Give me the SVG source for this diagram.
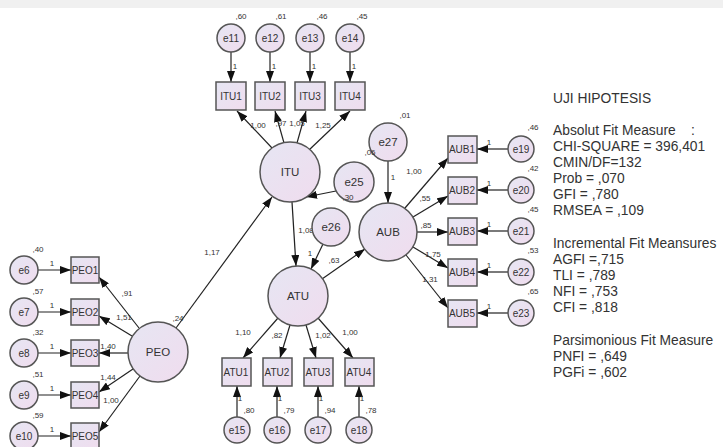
<svg xmlns="http://www.w3.org/2000/svg" width="723" height="447" viewBox="0 0 723 447">
<defs>
<linearGradient id="g" x1="0" y1="0" x2="1" y2="1">
<stop offset="0" stop-color="#e6e6f3"/>
<stop offset="1" stop-color="#f0dcee"/>
</linearGradient>
<marker id="ah" markerWidth="11" markerHeight="8" refX="11" refY="4" orient="auto" markerUnits="userSpaceOnUse">
<path d="M0,0 L11,4 L0,8 Z" fill="#111"/>
</marker>
</defs>
<style>
.c{fill:url(#g);stroke:#555;stroke-width:1.5}
.b{fill:url(#g);stroke:#555;stroke-width:1.5}
.n{font-family:"Liberation Sans",Arial,sans-serif;font-size:11.5px;fill:#333;text-anchor:middle}
.s{font-family:"Liberation Sans",Arial,sans-serif;font-size:10px;fill:#333;text-anchor:middle}
.l{font-family:"Liberation Sans",Arial,sans-serif;font-size:8px;fill:#333;text-anchor:middle}
.t{font-family:"Liberation Sans",Arial,sans-serif;font-size:13.8px;fill:#333}
.a{stroke:#222;stroke-width:1.2;fill:none;marker-end:url(#ah)}
</style>
<rect x="0" y="0" width="723" height="447" fill="#fff"/>
<rect x="0" y="0" width="723" height="8" fill="#f0f0f0"/>

<g id="connectors">
<line class="a" x1="231" y1="52" x2="231" y2="82"/>
<line class="a" x1="270" y1="52" x2="270" y2="82"/>
<line class="a" x1="310" y1="52" x2="310" y2="82"/>
<line class="a" x1="350" y1="52" x2="350" y2="82"/>
<line class="a" x1="272" y1="148" x2="237" y2="111"/>
<line class="a" x1="284" y1="143" x2="275" y2="111"/>
<line class="a" x1="297" y1="143" x2="306" y2="111"/>
<line class="a" x1="309" y1="150" x2="350" y2="111"/>
<line class="a" x1="176" y1="328" x2="272" y2="197"/>
<line class="a" x1="292" y1="202" x2="296" y2="266"/>
<line class="a" x1="323" y1="244" x2="311" y2="269"/>
<line class="a" x1="336" y1="191" x2="306" y2="197"/>
<line class="a" x1="388" y1="161" x2="388" y2="203"/>
<line class="a" x1="322" y1="279" x2="365" y2="249"/>
<line class="a" x1="405" y1="208" x2="448" y2="158"/>
<line class="a" x1="413" y1="217" x2="448" y2="196"/>
<line class="a" x1="417" y1="232" x2="448" y2="232"/>
<line class="a" x1="413" y1="247" x2="448" y2="268"/>
<line class="a" x1="406" y1="255" x2="448" y2="308"/>
<line class="a" x1="508" y1="149" x2="477" y2="149"/>
<line class="a" x1="508" y1="190" x2="477" y2="190"/>
<line class="a" x1="508" y1="231" x2="477" y2="231"/>
<line class="a" x1="508" y1="272" x2="477" y2="272"/>
<line class="a" x1="508" y1="313" x2="477" y2="313"/>
<line class="a" x1="139" y1="328" x2="99" y2="277"/>
<line class="a" x1="132" y1="336" x2="99" y2="316"/>
<line class="a" x1="128" y1="353" x2="99" y2="353"/>
<line class="a" x1="133" y1="369" x2="99" y2="392"/>
<line class="a" x1="140" y1="376" x2="99" y2="432"/>
<line class="a" x1="38" y1="270" x2="71" y2="270"/>
<line class="a" x1="38" y1="312" x2="71" y2="312"/>
<line class="a" x1="38" y1="353" x2="71" y2="353"/>
<line class="a" x1="38" y1="395" x2="71" y2="395"/>
<line class="a" x1="38" y1="436" x2="71" y2="436"/>
<line class="a" x1="278" y1="318" x2="243" y2="358"/>
<line class="a" x1="290" y1="325" x2="280" y2="358"/>
<line class="a" x1="306" y1="325" x2="316" y2="358"/>
<line class="a" x1="318" y1="318" x2="353" y2="358"/>
<line class="a" x1="237" y1="417" x2="237" y2="386"/>
<line class="a" x1="277" y1="417" x2="277" y2="386"/>
<line class="a" x1="318" y1="417" x2="318" y2="386"/>
<line class="a" x1="359" y1="417" x2="359" y2="386"/>
</g>

<g id="edge-labels">
<text class="l" x="235" y="69">1</text>
<text class="l" x="274" y="69">1</text>
<text class="l" x="314" y="69">1</text>
<text class="l" x="354" y="69">1</text>
<text class="l" x="258" y="128">1,00</text>
<text class="l" x="281" y="126">,97</text>
<text class="l" x="297" y="126">1,05</text>
<text class="l" x="323" y="128">1,25</text>
<text class="l" x="212" y="255">1,17</text>
<text class="l" x="178" y="321">,24</text>
<text class="l" x="306" y="233">1,08</text>
<text class="l" x="310" y="256">1</text>
<text class="l" x="393" y="180">1</text>
<text class="l" x="334" y="263">,63</text>
<text class="l" x="414" y="174">1,00</text>
<text class="l" x="425" y="201">,55</text>
<text class="l" x="426" y="228">,85</text>
<text class="l" x="433" y="257">1,75</text>
<text class="l" x="430" y="282">1,31</text>
<text class="l" x="489" y="145">1</text>
<text class="l" x="489" y="186">1</text>
<text class="l" x="489" y="227">1</text>
<text class="l" x="489" y="268">1</text>
<text class="l" x="489" y="309">1</text>
<text class="l" x="127" y="296">,91</text>
<text class="l" x="124" y="320">1,51</text>
<text class="l" x="108" y="349">1,40</text>
<text class="l" x="108" y="380">1,44</text>
<text class="l" x="111" y="403">1,00</text>
<text class="l" x="52" y="266">1</text>
<text class="l" x="52" y="308">1</text>
<text class="l" x="52" y="349">1</text>
<text class="l" x="52" y="391">1</text>
<text class="l" x="52" y="432">1</text>
<text class="l" x="243" y="335">1,10</text>
<text class="l" x="277" y="338">,82</text>
<text class="l" x="323" y="338">1,02</text>
<text class="l" x="350" y="335">1,00</text>
<text class="l" x="240" y="401">1</text>
<text class="l" x="280" y="401">1</text>
<text class="l" x="321" y="401">1</text>
<text class="l" x="362" y="401">1</text>
</g>

<g id="e11"><circle class="c" cx="231" cy="38" r="14"/><text class="s" x="231" y="42">e11</text><text class="l" x="241" y="19">,60</text></g>
<g id="e12"><circle class="c" cx="270" cy="38" r="14"/><text class="s" x="270" y="42">e12</text><text class="l" x="281" y="19">,61</text></g>
<g id="e13"><circle class="c" cx="310" cy="38" r="14"/><text class="s" x="310" y="42">e13</text><text class="l" x="322" y="19">,46</text></g>
<g id="e14"><circle class="c" cx="350" cy="38" r="14"/><text class="s" x="350" y="42">e14</text><text class="l" x="362" y="19">,45</text></g>

<g id="ITU1"><rect class="b" x="216" y="82" width="30" height="28"/><text class="s" x="231" y="100">ITU1</text></g>
<g id="ITU2"><rect class="b" x="255" y="82" width="30" height="28"/><text class="s" x="270" y="100">ITU2</text></g>
<g id="ITU3"><rect class="b" x="295" y="82" width="30" height="28"/><text class="s" x="310" y="100">ITU3</text></g>
<g id="ITU4"><rect class="b" x="335" y="82" width="30" height="28"/><text class="s" x="350" y="100">ITU4</text></g>

<g id="ITU"><circle class="c" cx="290" cy="172" r="30"/><text class="n" x="290" y="176">ITU</text></g>
<g id="e27"><circle class="c" cx="388" cy="142" r="19"/><text class="n" x="388" y="146">e27</text><text class="l" x="405" y="118">,01</text></g>
<g id="e25"><circle class="c" cx="354" cy="182" r="20"/><text class="n" x="354" y="186">e25</text><text class="l" x="370" y="155">,06</text><text class="l" x="348" y="200">,30</text></g>
<g id="e26"><circle class="c" cx="331" cy="227" r="19"/><text class="n" x="331" y="231">e26</text></g>
<g id="ATU"><circle class="c" cx="298" cy="296" r="30"/><text class="n" x="298" y="300">ATU</text></g>
<g id="AUB"><circle class="c" cx="388" cy="232" r="29"/><text class="n" x="388" y="236">AUB</text></g>
<g id="PEO"><circle class="c" cx="158" cy="352" r="30"/><text class="n" x="158" y="356">PEO</text></g>

<g id="AUB1"><rect class="b" x="448" y="136" width="29" height="27"/><text class="s" x="462" y="153">AUB1</text></g>
<g id="AUB2"><rect class="b" x="448" y="177" width="29" height="27"/><text class="s" x="462" y="194">AUB2</text></g>
<g id="AUB3"><rect class="b" x="448" y="218" width="29" height="27"/><text class="s" x="462" y="235">AUB3</text></g>
<g id="AUB4"><rect class="b" x="448" y="259" width="29" height="27"/><text class="s" x="462" y="276">AUB4</text></g>
<g id="AUB5"><rect class="b" x="448" y="300" width="29" height="27"/><text class="s" x="462" y="317">AUB5</text></g>

<g id="e19"><circle class="c" cx="521" cy="149" r="13"/><text class="s" x="521" y="153">e19</text><text class="l" x="533" y="130">,46</text></g>
<g id="e20"><circle class="c" cx="521" cy="190" r="13"/><text class="s" x="521" y="194">e20</text><text class="l" x="533" y="171">,42</text></g>
<g id="e21"><circle class="c" cx="521" cy="231" r="13"/><text class="s" x="521" y="235">e21</text><text class="l" x="533" y="212">,45</text></g>
<g id="e22"><circle class="c" cx="521" cy="272" r="13"/><text class="s" x="521" y="276">e22</text><text class="l" x="533" y="253">,53</text></g>
<g id="e23"><circle class="c" cx="521" cy="313" r="13"/><text class="s" x="521" y="317">e23</text><text class="l" x="533" y="294">,65</text></g>

<g id="PEO1"><rect class="b" x="71" y="257" width="28" height="26"/><text class="s" x="85" y="274">PEO1</text></g>
<g id="PEO2"><rect class="b" x="71" y="299" width="28" height="26"/><text class="s" x="85" y="316">PEO2</text></g>
<g id="PEO3"><rect class="b" x="71" y="340" width="28" height="26"/><text class="s" x="85" y="357">PEO3</text></g>
<g id="PEO4"><rect class="b" x="71" y="382" width="28" height="26"/><text class="s" x="85" y="399">PEO4</text></g>
<g id="PEO5"><rect class="b" x="71" y="423" width="28" height="26"/><text class="s" x="85" y="440">PEO5</text></g>

<g id="e6"><circle class="c" cx="24" cy="270" r="14"/><text class="s" x="24" y="274">e6</text><text class="l" x="38" y="252">,40</text></g>
<g id="e7"><circle class="c" cx="24" cy="312" r="14"/><text class="s" x="24" y="316">e7</text><text class="l" x="38" y="294">,57</text></g>
<g id="e8"><circle class="c" cx="24" cy="353" r="14"/><text class="s" x="24" y="357">e8</text><text class="l" x="38" y="335">,32</text></g>
<g id="e9"><circle class="c" cx="24" cy="395" r="14"/><text class="s" x="24" y="399">e9</text><text class="l" x="38" y="377">,51</text></g>
<g id="e10"><circle class="c" cx="24" cy="436" r="14"/><text class="s" x="24" y="440">e10</text><text class="l" x="38" y="418">,59</text></g>

<g id="ATU1"><rect class="b" x="222" y="358" width="29" height="28"/><text class="s" x="236" y="376">ATU1</text></g>
<g id="ATU2"><rect class="b" x="263" y="358" width="29" height="28"/><text class="s" x="277" y="376">ATU2</text></g>
<g id="ATU3"><rect class="b" x="304" y="358" width="29" height="28"/><text class="s" x="318" y="376">ATU3</text></g>
<g id="ATU4"><rect class="b" x="345" y="358" width="29" height="28"/><text class="s" x="359" y="376">ATU4</text></g>

<g id="e15"><circle class="c" cx="237" cy="430" r="13"/><text class="s" x="237" y="434">e15</text><text class="l" x="249" y="413">,80</text></g>
<g id="e16"><circle class="c" cx="277" cy="430" r="13"/><text class="s" x="277" y="434">e16</text><text class="l" x="289" y="413">,79</text></g>
<g id="e17"><circle class="c" cx="318" cy="430" r="13"/><text class="s" x="318" y="434">e17</text><text class="l" x="330" y="413">,94</text></g>
<g id="e18"><circle class="c" cx="359" cy="430" r="13"/><text class="s" x="359" y="434">e18</text><text class="l" x="371" y="413">,78</text></g>

<g id="fit-text">
<text class="t" x="553" y="103">UJI HIPOTESIS</text>
<text class="t" x="553" y="135" xml:space="preserve">Absolut Fit Measure    :</text>
<text class="t" x="553" y="151">CHI-SQUARE = 396,401</text>
<text class="t" x="553" y="167">CMIN/DF=132</text>
<text class="t" x="553" y="183">Prob = ,070</text>
<text class="t" x="553" y="199">GFI = ,780</text>
<text class="t" x="553" y="215">RMSEA = ,109</text>
<text class="t" x="553" y="248">Incremental Fit Meansures</text>
<text class="t" x="553" y="264">AGFI =,715</text>
<text class="t" x="553" y="280">TLI = ,789</text>
<text class="t" x="553" y="296">NFI = ,753</text>
<text class="t" x="553" y="312">CFI = ,818</text>
<text class="t" x="553" y="345">Parsimonious Fit Measure</text>
<text class="t" x="553" y="361">PNFI = ,649</text>
<text class="t" x="553" y="377">PGFi = ,602</text>
</g>
</svg>
